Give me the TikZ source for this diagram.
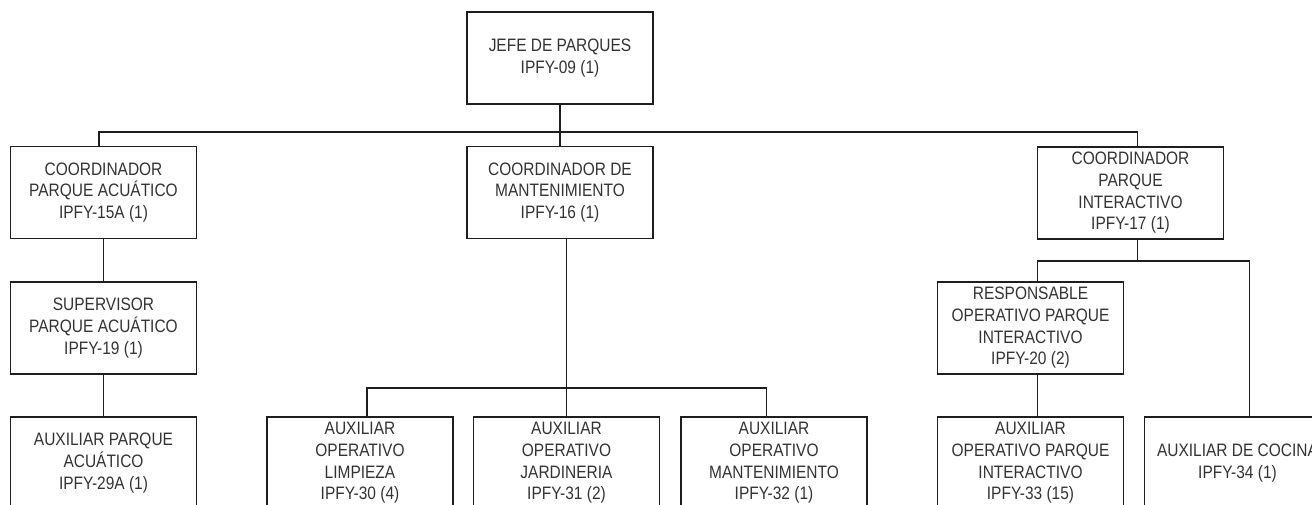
\documentclass[tikz,border=0pt]{standalone}
\usepackage{fontspec}
\setmainfont{Liberation Sans}[FakeStretch=0.86]
\usetikzlibrary{calc}
\definecolor{linecol}{HTML}{1E1E1E}
\definecolor{txtcol}{HTML}{333333}
\tikzset{
  orgbox/.style={draw=linecol, line width=1.4pt, align=center, inner sep=0pt,
    minimum width=186pt, minimum height=92pt, text=txtcol,
    font=\fontsize{18}{21.7}\selectfont},
  conn/.style={draw=linecol, line width=1.4pt}
}
\begin{document}
\begin{tikzpicture}[x=1pt,y=-1pt]
\useasboundingbox (0,0) rectangle (1312,504);
\clip (0,0) rectangle (1312,504);
\fill[white] (0,0) rectangle (1312,504);
% nodes
\node[orgbox] (top)  at (560,58)     {JEFE DE PARQUES\\IPFY-09 (1)};
\node[orgbox] (cA)   at (103.5,192.5) {COORDINADOR\\PARQUE ACUÁTICO\\IPFY-15A (1)};
\node[orgbox] (cM)   at (560,192.5)   {COORDINADOR DE\\MANTENIMIENTO\\IPFY-16 (1)};
\node[orgbox] (cI)   at (1130.5,193)  {COORDINADOR\\PARQUE\\INTERACTIVO\\IPFY-17 (1)};
\node[orgbox] (sup)  at (103.5,328)   {SUPERVISOR\\PARQUE ACUÁTICO\\IPFY-19 (1)};
\node[orgbox] (auxA) at (103.5,463)   {AUXILIAR PARQUE\\ACUÁTICO\\IPFY-29A (1)};
\node[orgbox] (limp) at (360,463)     {AUXILIAR\\OPERATIVO\\LIMPIEZA\\IPFY-30 (4)};
\node[orgbox] (jard) at (566.5,463)   {AUXILIAR\\OPERATIVO\\JARDINERIA\\IPFY-31 (2)};
\node[orgbox] (mant) at (774,463)     {AUXILIAR\\OPERATIVO\\MANTENIMIENTO\\IPFY-32 (1)};
\node[orgbox] (resp) at (1030.5,328)  {RESPONSABLE\\OPERATIVO PARQUE\\INTERACTIVO\\IPFY-20 (2)};
\node[orgbox] (auxI) at (1030.5,463)  {AUXILIAR\\OPERATIVO PARQUE\\INTERACTIVO\\IPFY-33 (15)};
\node[orgbox] (coc)  at (1237.5,463)  {AUXILIAR DE COCINA\\IPFY-34 (1)};
% bus coordinates
\coordinate (busTop) at (560,132);
\coordinate (busM) at (566.5,388);
\coordinate (busI) at (1137.5,261);
% connectors
\draw[conn] (top.south) -- (cM.north);
\draw[conn] ($(cA.north)+(-4.5,0)$) |- (busTop) -| ($(cI.north)+(7,0)$);
\draw[conn] (cA.south) -- (sup.north);
\draw[conn] (sup.south) -- (auxA.north);
\draw[conn] ($(cM.south)+(6.5,0)$) -- (jard.north);
\draw[conn] ($(limp.north)+(7,0)$) |- (busM) -| ($(mant.north)+(-7.5,0)$);
\draw[conn] ($(cI.south)+(7,0)$) -- (busI);
\draw[conn] ($(resp.north)+(7,0)$) |- (busI) -| ($(coc.north)+(12,0)$);
\draw[conn] ($(resp.south)+(7,0)$) -- ($(auxI.north)+(7,0)$);
\end{tikzpicture}
\end{document}
